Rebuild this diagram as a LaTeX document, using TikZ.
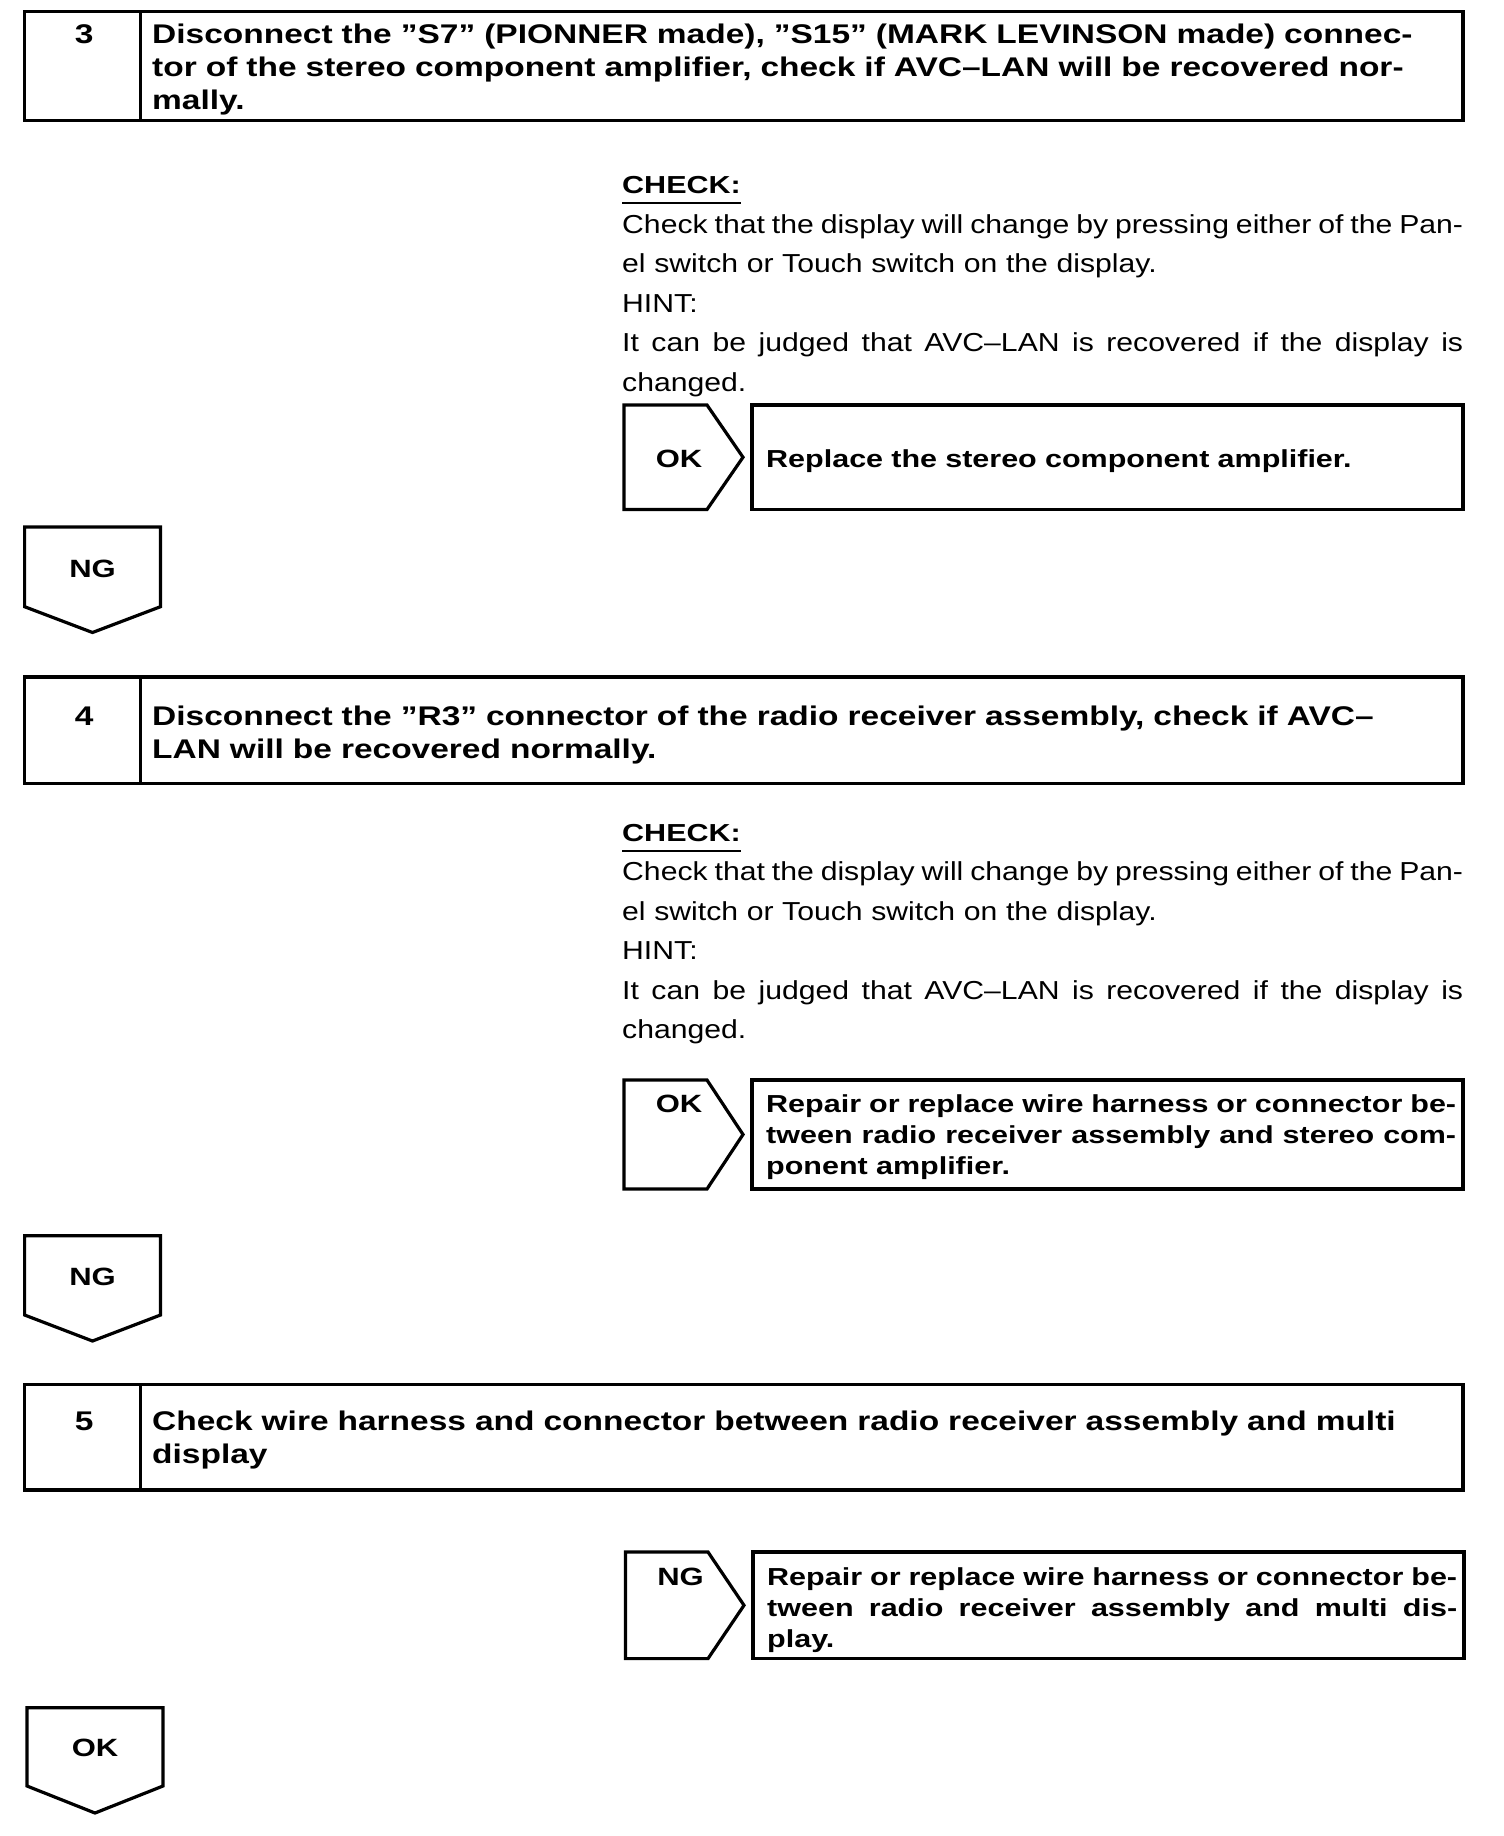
\documentclass[tikz,border=0pt]{standalone}
\usepackage{fontspec}
\setmainfont{Liberation Sans}
\newfontfamily\headfont{Liberation Sans}[FakeStretch=1.24]
\newfontfamily\bodyfont{Liberation Sans}[FakeStretch=1.16]
\usetikzlibrary{positioning}
% a line set out to the full width, spaces stretched evenly
\newcommand{\jline}[2]{\leavevmode\hbox to #1{\spaceskip=.2em plus 1fil minus .1em #2}}

\tikzset{
  frame/.style={draw, line width=3.2pt},
  steptext/.style={anchor=base west, text width=1300pt, align=left, inner sep=0pt,
    font=\headfont\bfseries\fontsize{27}{33}\selectfont},
  numtext/.style={anchor=base, inner sep=0pt,
    font=\headfont\bfseries\fontsize{27}{33}\selectfont},
  checkhead/.style={anchor=base west, inner sep=0pt,
    font=\headfont\bfseries\fontsize{24.6}{30}\selectfont},
  checktext/.style={anchor=base west, text width=841pt, align=left, inner sep=0pt,
    font=\bodyfont\fontsize{26}{39.5}\selectfont},
  fixtext/.style={anchor=base west, text width=690pt, align=left, inner sep=0pt,
    font=\headfont\bfseries\fontsize{24.6}{31}\selectfont},
  tagtext/.style={anchor=base, inner sep=0pt,
    font=\headfont\bfseries\fontsize{25}{30}\selectfont},
}

\begin{document}
\begin{tikzpicture}[x=1pt,y=-1pt]
  \fill[white] (0,0) rectangle (1504,1836);
  \useasboundingbox (0,0) rectangle (1504,1836);

  % step 3
  \draw[frame] (24.6,11.7) rectangle (1463,120.6);
  \draw[frame] (140.6,11.7) -- (140.6,120.6);
  \node[numtext] (n3) at (84.3,44) {3};
  \node[steptext] (t3) at (152,44) {Disconnect the ”S7” (PIONNER made), ”S15” (MARK LEVINSON made) connec-\\tor of the stereo component amplifier, check if AVC–LAN will be recovered nor-\\mally.};

  \node[checkhead] (k3) at (622,193) {CHECK:};
  \draw[line width=1.6pt] ([yshift=-10pt]k3.base west) -- ([yshift=-10pt]k3.base east);
  \node[checktext] (c3) at (622,233) {\jline{841pt}{Check that the display will change by pressing either of the Pan-}\\el switch or Touch switch on the display.\\HINT:\\\jline{841pt}{It can be judged that AVC–LAN is recovered if the display is}\\changed.};

  \draw[frame] (624,405) -- (707,405) -- (743,457.25) -- (707,509.5) -- (624,509.5) -- cycle;
  \node[tagtext] (ok3) at (679,467) {OK};
  \draw[frame] (752,405) rectangle (1463,509.5);
  \node[fixtext] (f3) at (766,467) {Replace the stereo component amplifier.};

  \draw[frame] (24.6,527) -- (160.5,527) -- (160.5,606.7) -- (92.5,632.5) -- (24.6,606.7) -- cycle;
  \node[tagtext] (ng3) at (92.5,577.5) {NG};

  % step 4
  \draw[frame] (24.6,677) rectangle (1463,783.6);
  \draw[frame] (140.6,677) -- (140.6,783.6);
  \node[numtext] (n4) at (84.3,725) {4};
  \node[steptext] (t4) at (152,725) {Disconnect the ”R3” connector of the radio receiver assembly, check if AVC–\\LAN will be recovered normally.};

  \node[checkhead] (k4) at (622,841) {CHECK:};
  \draw[line width=1.6pt] ([yshift=-10pt]k4.base west) -- ([yshift=-10pt]k4.base east);
  \node[checktext] (c4) at (622,880.5) {\jline{841pt}{Check that the display will change by pressing either of the Pan-}\\el switch or Touch switch on the display.\\HINT:\\\jline{841pt}{It can be judged that AVC–LAN is recovered if the display is}\\changed.};

  \draw[frame] (624,1080) -- (707,1080) -- (743,1134.5) -- (707,1189) -- (624,1189) -- cycle;
  \node[tagtext] (ok4) at (679,1112.5) {OK};
  \draw[frame] (752,1080) rectangle (1463,1189);
  \node[fixtext] (f4) at (766,1112.5) {\jline{690pt}{Repair or replace wire harness or connector be-}\\\jline{690pt}{tween radio receiver assembly and stereo com-}\\ponent amplifier.};

  \draw[frame] (24.6,1235.7) -- (160.5,1235.7) -- (160.5,1315) -- (92.5,1341) -- (24.6,1315) -- cycle;
  \node[tagtext] (ng4) at (92.5,1285) {NG};

  % step 5
  \draw[frame] (24.6,1384.5) rectangle (1463,1490);
  \draw[frame] (140.6,1384.5) -- (140.6,1490);
  \node[numtext] (n5) at (84.3,1430) {5};
  \node[steptext] (t5) at (152,1430) {Check wire harness and connector between radio receiver assembly and multi\\display};

  \draw[frame] (625.5,1552) -- (708,1552) -- (744,1605.3) -- (708,1658.6) -- (625.5,1658.6) -- cycle;
  \node[tagtext] (ng5) at (680.5,1585) {NG};
  \draw[frame] (753,1552) rectangle (1464,1658.6);
  \node[fixtext] (f5) at (767,1585) {\jline{690pt}{Repair or replace wire harness or connector be-}\\\jline{690pt}{tween radio receiver assembly and multi dis-}\\play.};

  \draw[frame] (27,1707.7) -- (163,1707.7) -- (163,1786) -- (95,1813) -- (27,1786) -- cycle;
  \node[tagtext] (ok5) at (95,1756) {OK};
\end{tikzpicture}
\end{document}
